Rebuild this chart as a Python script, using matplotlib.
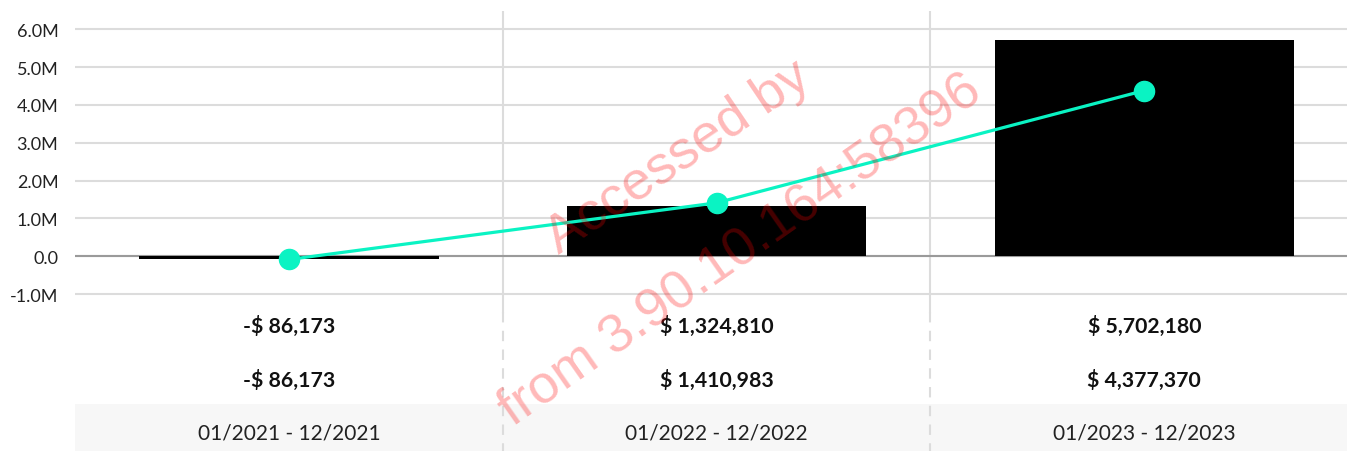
# Bar + line chart with value table underneath
import matplotlib.pyplot as plt
import numpy as np

# Data
periods = ['01/2021 - 12/2021', '01/2022 - 12/2022', '01/2023 - 12/2023']
bar_values = [-86173, 1324810, 5702180]
line_values = [-86173, 1410983, 4377370]
y_ticks = [-1e6, 0, 1e6, 2e6, 3e6, 4e6, 5e6, 6e6]

W, H = 1347, 452
BAR_COLOR = '#000000'
LINE_COLOR = '#0AF3C3'
GRID_COLOR = '#dcdcdc'


def fmt_money(v):
    s = '$ {:,}'.format(abs(v))
    return '-' + s if v < 0 else s


def fmt_axis(v):
    if v == 0:
        return '0.0'
    return '{:.1f}M'.format(v / 1e6)


def px(x0, y0, x1, y1):
    # pixel box (top-left origin) -> figure fraction rect
    return [x0 / W, 1 - y1 / H, (x1 - x0) / W, (y1 - y0) / H]


def main():
    plt.rcParams['font.family'] = ['Lato', 'DejaVu Sans']
    fig = plt.figure(figsize=(W / 100, H / 100), dpi=100)

    x = np.arange(len(periods))
    xlim = (-0.5, 2.474)

    # chart area
    ax = fig.add_axes(px(75, 12, W, 300))
    ax.set_xlim(*xlim)
    ax.set_ylim(-1.13e6, 6.48e6)
    for t in y_ticks:
        ax.axhline(t, color=GRID_COLOR, lw=1.5, zorder=0)
    ax.axhline(0, color='#9a9a9a', lw=1.5, zorder=1)
    for d in (0.5, 1.5):
        ax.axvline(d, color=GRID_COLOR, lw=1.5, zorder=0)

    ax.bar(x, bar_values, width=0.70, color=BAR_COLOR, zorder=2)
    ax.plot(x, line_values, color=LINE_COLOR, lw=2.3, marker='o',
            markersize=14.5, zorder=3)

    ax.set_yticks(y_ticks)
    ax.set_yticklabels([fmt_axis(t) for t in y_ticks])
    ax.tick_params(axis='y', length=0, pad=12, labelsize=13,
                   labelcolor='#222222')
    ax.set_xticks([])
    for s in ax.spines.values():
        s.set_visible(False)
    ax.patch.set_alpha(0)

    # table area
    tb = fig.add_axes(px(75, 300, W, H))
    tb.set_xlim(*xlim)
    tb.set_ylim(H, 300)
    tb.axis('off')
    tb.axhspan(405, H, xmin=-0.003, xmax=1, color='#f7f7f7', lw=0, zorder=0)
    for d in (0.5, 1.5):
        tb.plot([d, d], [300, 313], color=GRID_COLOR, lw=1.5, zorder=1)
        tb.plot([d, d], [313, H], color=GRID_COLOR, lw=1.5,
                ls=(0, (5, 4)), zorder=1)
    for i in range(len(periods)):
        tb.text(x[i], 326, fmt_money(bar_values[i]), ha='center',
                va='center', fontsize=15.3, fontweight='bold', color='#111111')
        tb.text(x[i], 380, fmt_money(line_values[i]), ha='center',
                va='center', fontsize=15.3, fontweight='bold', color='#111111')
        tb.text(x[i], 434, periods[i], ha='center', va='center',
                fontsize=15, color='#222222')

    # watermark
    fig.text(678 / W, 1 - 158 / H, 'Accessed by', rotation=34,
             ha='center', va='center', fontsize=39, color='red', alpha=0.28,
             family='Liberation Sans', rotation_mode='anchor')
    fig.text(740 / W, 1 - 250 / H, 'from 3.90.10.164:58396', rotation=35,
             ha='center', va='center', fontsize=39, color='red', alpha=0.28,
             family='Liberation Sans', rotation_mode='anchor')

    fig.savefig('out.png', dpi=100)


if __name__ == "__main__":
    main()
